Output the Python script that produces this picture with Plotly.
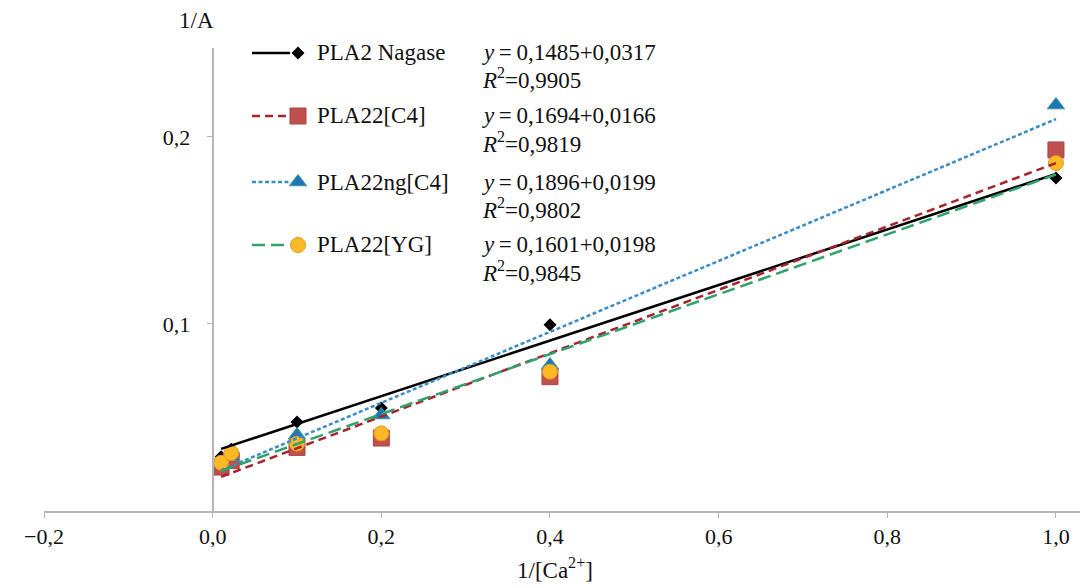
import plotly.graph_objects as go

# ---------------- data ----------------
x_vals = [0.01, 0.022, 0.1, 0.2, 0.4, 1.0]
nagase = [0.029, 0.033, 0.0476, 0.055, 0.0995, 0.178]
c4 = [0.0235, 0.027, 0.034, 0.039, 0.0718, 0.193]
ngc4 = [0.025, 0.029, 0.0406, 0.0513, 0.078, 0.217]
yg = [0.0258, 0.031, 0.036, 0.0415, 0.0745, 0.186]

series_names = ["PLA2 Nagase", "PLA22[C4]", "PLA22ng[C4]", "PLA22[YG]"]
slopes = [0.1485, 0.1694, 0.1896, 0.1601]
intercepts = [0.0317, 0.0166, 0.0199, 0.0198]
r2_vals = ["0,9905", "0,9819", "0,9802", "0,9845"]
x_ticks = [-0.2, 0.0, 0.2, 0.4, 0.6, 0.8, 1.0]
y_ticks = [0.1, 0.2]

# ---------------- styles ----------------
FONT = "Liberation Serif"
BODY = 8  # default page body margin
PAGE_W, PAGE_H = 1088, 588
W, H = PAGE_W - BODY, PAGE_H - BODY
PLOT_L, PLOT_R, PLOT_T, PLOT_B = 44, 1088, 48, 511   # plot area in page pixels
ML = PLOT_L - BODY
MT = PLOT_T - BODY
MR = PAGE_W - PLOT_R
MB = PAGE_H - PLOT_B
X_RANGE = [-0.2, 1.038]
Y_RANGE = [0, 0.2475]
AXIS_COLOR = "#B5B5B5"
TXT = "#111111"
FS = 23


def px_x(p):
    return (p - PLOT_L) / (PLOT_R - PLOT_L)


def px_y(p):
    return (PLOT_B - p) / (PLOT_B - PLOT_T)


marker_styles = [
    dict(symbol="diamond", size=10, color="#000000", line=dict(width=0)),
    dict(symbol="square", size=16, color="#C0504D", line=dict(width=1, color="#A94442")),
    dict(symbol="triangle-up", size=15, color="#1F76B4", line=dict(width=1, color="#3A9A9A")),
    dict(symbol="circle", size=15, color="#FDB827", line=dict(width=1, color="#E09A1E")),
]
line_styles = [
    dict(color="#000000", width=2.5, dash="solid"),
    dict(color="#A8232E", width=2.5, dash="8px,5px"),
    dict(color="#3A8CC6", width=2.5, dash="4px,2.5px"),
    dict(color="#2FA36B", width=2.5, dash="13px,6px"),
]
series_values = [nagase, c4, ngc4, yg]

fig = go.Figure()

# markers
for name, vals, ms in zip(series_names, series_values, marker_styles):
    fig.add_trace(go.Scatter(x=x_vals, y=vals, mode="markers", marker=ms,
                             name=name, showlegend=False, cliponaxis=False))

# trend lines (from regression coefficients)
x_line = [min(x_vals), max(x_vals)]
for name, s, b, ls in zip(series_names, slopes, intercepts, line_styles):
    fig.add_trace(go.Scatter(x=x_line, y=[s * xv + b for xv in x_line], mode="lines",
                             line=ls, name=name + " trend", showlegend=False))

# ---------------- custom legend (pixel-unit overlay axes) ----------------
row_y = [53, 116, 182, 245]
line_x0, line_x1, mark_x = 252, 290, 298
name_x, eq_x = 315, 480
annotations = []
for i, name in enumerate(series_names):
    y0 = row_y[i]
    fig.add_trace(go.Scatter(x=[line_x0, line_x1], y=[y0, y0], mode="lines",
                             line=line_styles[i], xaxis="x2", yaxis="y2",
                             showlegend=False, hoverinfo="skip", cliponaxis=False))
    fig.add_trace(go.Scatter(x=[mark_x], y=[y0], mode="markers", marker=marker_styles[i],
                             xaxis="x2", yaxis="y2", showlegend=False,
                             hoverinfo="skip", cliponaxis=False))
    slope_txt = f"{slopes[i]:.4f}".replace(".", ",")
    int_txt = f"{intercepts[i]:.4f}".replace(".", ",")
    annotations.append(dict(x=px_x(name_x), y=px_y(y0), xref="paper", yref="paper", text=name,
                            showarrow=False, xanchor="left", yanchor="middle",
                            font=dict(family=FONT, size=FS, color=TXT)))
    annotations.append(dict(x=px_x(eq_x), y=px_y(y0), xref="paper", yref="paper",
                            text=f"<i>y</i>\u2009=\u2009{slope_txt}+{int_txt}",
                            showarrow=False, xanchor="left", yanchor="middle",
                            font=dict(family=FONT, size=FS, color=TXT)))
    annotations.append(dict(x=px_x(eq_x), y=px_y(y0 + 26), xref="paper", yref="paper",
                            text=f"<i>R</i><sup>2</sup>={r2_vals[i]}",
                            showarrow=False, xanchor="left", yanchor="middle",
                            font=dict(family=FONT, size=FS, color=TXT)))

# axis titles
annotations.append(dict(x=px_x(196), y=px_y(21), xref="paper", yref="paper", text="1/A",
                        showarrow=False, xanchor="center", yanchor="middle",
                        font=dict(family=FONT, size=FS, color=TXT)))
annotations.append(dict(x=px_x(555), y=px_y(568), xref="paper", yref="paper",
                        text="1/[Ca<sup>2+</sup>]",
                        showarrow=False, xanchor="center", yanchor="middle",
                        font=dict(family=FONT, size=FS, color=TXT)))

y_axis_pos = (0 - X_RANGE[0]) / (X_RANGE[1] - X_RANGE[0])

fig.update_layout(
    width=W, height=H,
    margin=dict(l=ML, r=MR, t=MT, b=MB, pad=0),
    paper_bgcolor="white", plot_bgcolor="white",
    separators=", ",
    font=dict(family=FONT, size=22, color=TXT),
    showlegend=False,
    annotations=annotations,
    xaxis=dict(range=X_RANGE, domain=[0, 1], tickvals=x_ticks, tickformat=".1f",
               showline=True, linecolor=AXIS_COLOR, linewidth=2,
               ticks="outside", ticklen=5, tickwidth=1, tickcolor=AXIS_COLOR,
               showgrid=False, zeroline=False, anchor="y",
               tickfont=dict(family=FONT, size=22, color=TXT)),
    yaxis=dict(range=Y_RANGE, domain=[0, 1], tickvals=y_ticks, tickformat=".1f",
               showline=True, linecolor=AXIS_COLOR, linewidth=2,
               ticks="outside", ticklen=5, tickwidth=1, tickcolor=AXIS_COLOR,
               ticklabelstandoff=12,
               showgrid=False, zeroline=False, anchor="free", position=y_axis_pos,
               tickfont=dict(family=FONT, size=22, color=TXT)),
    xaxis2=dict(range=[PLOT_L, PLOT_R], overlaying="x", visible=False, anchor="y2"),
    yaxis2=dict(range=[PLOT_B, PLOT_T], overlaying="y", visible=False, anchor="x2"),
)

fig.write_html("out.html")
